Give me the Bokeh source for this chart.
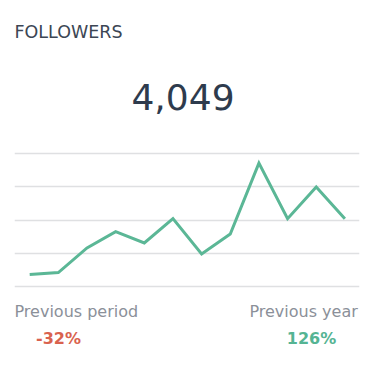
from bokeh.plotting import figure
from bokeh.models import Label, FixedTicker, Range1d
from bokeh.embed import file_html
from bokeh.resources import INLINE

# data
periods = list(range(12))
followers = [36, 42, 116, 165, 131, 204, 98, 158, 371, 204, 299, 204]
grid_ticks = [0, 100, 200, 300, 400]
title_text = "FOLLOWERS"
total_text = "4,049"
prev_period_label = "Previous period"
prev_period_value = "-32%"
prev_year_label = "Previous year"
prev_year_value = "126%"

# frame spans the full height; gridlines are only drawn at the fixed ticks
p = figure(width=374, height=376, output_backend="svg", toolbar_location=None,
           x_range=Range1d(-0.53, 11.51), y_range=Range1d(-270.7, 860.2),
           min_border_left=14, min_border_right=15, min_border_top=0, min_border_bottom=0)
p.background_fill_color = "white"
p.border_fill_color = "white"
p.outline_line_color = None
p.axis.visible = False
p.xgrid.visible = False
p.ygrid.ticker = FixedTicker(ticks=grid_ticks)
p.ygrid.grid_line_color = "#dfe0e2"
p.ygrid.grid_line_width = 1.5

p.line(periods, followers, line_color="#5bb796", line_width=3, line_join="miter")

font = "DejaVu Sans"
def lab(x, y, text, size, color, align, bold=False):
    p.add_layout(Label(x=x, y=y, x_units="screen", y_units="screen", text=text,
                       text_font=font, text_font_size=size, text_color=color,
                       text_font_style="bold" if bold else "normal",
                       text_align=align, text_baseline="alphabetic"))

lab(0, 344.3, title_text, "17.5px", "#3c4654", "left")
lab(168.5, 279.3, total_text, "36px", "#2e3b4d", "center")
lab(0, 65.3, prev_period_label, "16px", "#8b9099", "left")
lab(343.3, 65.3, prev_year_label, "16px", "#8b9099", "right")
lab(44, 37.7, prev_period_value, "16px", "#d9624e", "center", bold=True)
lab(297, 37.7, prev_year_value, "16px", "#55b493", "center", bold=True)

open("out.html", "w").write(file_html(p, INLINE))
